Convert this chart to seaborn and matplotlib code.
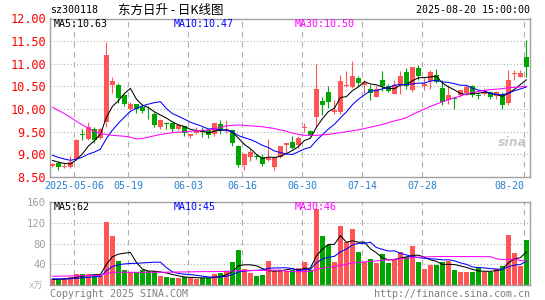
import matplotlib
matplotlib.use("Agg")
import matplotlib.pyplot as plt
import seaborn as sns
import numpy as np
import pandas as pd

sns.set_style("white")
plt.rcParams['font.family'] = ['DejaVu Sans Mono', 'Noto Sans CJK SC']

# daily candles, 2025-04-25 .. 2025-08-20 (80 trading days)
opens = [8.75, 8.81, 8.72, 8.73, 8.90, 9.43, 9.35, 9.57, 9.36, 9.72,
         10.53, 10.53, 10.31, 10.01, 10.11, 10.04, 9.99, 9.89, 9.60, 9.70,
         9.69, 9.57, 9.62, 9.40, 9.48, 9.54, 9.54, 9.44, 9.66, 9.54,
         9.53, 9.18, 8.76, 8.94, 8.95, 8.94, 8.87, 8.72, 8.94, 9.20,
         9.28, 9.20, 9.58, 9.51, 9.82, 10.17, 10.37, 9.93, 9.93, 10.52,
         10.49, 10.69, 10.54, 10.45, 10.26, 10.65, 10.50, 10.34, 10.54, 10.82,
         10.43, 10.90, 10.52, 10.63, 10.75, 10.46, 10.20, 10.25, 10.31, 10.35,
         10.50, 10.29, 10.33, 10.38, 10.29, 10.31, 10.13, 10.78, 10.71, 11.14]
highs = [8.82, 8.83, 8.81, 8.96, 9.33, 9.56, 9.72, 9.60, 9.58, 11.49,
         10.71, 10.57, 10.33, 10.16, 10.12, 10.11, 10.07, 9.94, 9.77, 9.71,
         9.71, 9.68, 9.62, 9.45, 9.60, 9.60, 9.56, 9.70, 9.75, 9.75,
         9.53, 9.20, 9.03, 9.12, 9.01, 9.01, 9.35, 8.95, 9.19, 9.24,
         9.40, 9.40, 9.69, 9.53, 11.00, 10.26, 10.50, 10.19, 10.76, 10.84,
         11.07, 10.74, 10.65, 10.54, 10.52, 10.85, 10.56, 10.65, 10.84, 10.91,
         10.93, 10.97, 10.68, 10.86, 10.88, 10.65, 10.53, 10.27, 10.43, 10.53,
         10.53, 10.38, 10.46, 10.38, 10.40, 10.38, 10.87, 10.87, 10.86, 11.53]
lows = [8.72, 8.66, 8.70, 8.69, 8.88, 9.32, 9.32, 9.26, 9.33, 9.61,
        10.36, 10.14, 10.07, 9.98, 9.92, 9.92, 9.77, 9.60, 9.57, 9.57,
        9.49, 9.53, 9.40, 9.36, 9.46, 9.38, 9.37, 9.40, 9.46, 9.47,
        9.18, 8.71, 8.66, 8.85, 8.90, 8.75, 8.86, 8.66, 8.91, 9.03,
        9.11, 9.15, 9.49, 9.40, 9.60, 9.86, 10.03, 9.90, 9.90, 10.49,
        10.47, 10.50, 10.35, 10.21, 10.26, 10.41, 10.37, 10.34, 10.34, 10.45,
        10.38, 10.64, 10.42, 10.45, 10.57, 10.09, 10.12, 10.00, 10.27, 10.31,
        10.27, 10.23, 10.31, 10.23, 10.23, 10.01, 10.09, 10.64, 10.71, 10.71]
closes = [8.78, 8.73, 8.74, 8.84, 9.32, 9.42, 9.60, 9.32, 9.55, 11.19,
          10.63, 10.24, 10.11, 10.11, 10.01, 9.96, 9.97, 9.65, 9.76, 9.66,
          9.55, 9.64, 9.47, 9.44, 9.53, 9.49, 9.42, 9.69, 9.53, 9.56,
          9.25, 8.76, 9.00, 9.05, 8.94, 8.79, 8.93, 8.94, 9.18, 9.24,
          9.14, 9.36, 9.61, 9.43, 10.45, 10.08, 10.15, 9.99, 10.61, 10.54,
          10.74, 10.57, 10.57, 10.35, 10.45, 10.50, 10.41, 10.54, 10.74, 10.52,
          10.92, 10.73, 10.56, 10.82, 10.60, 10.16, 10.31, 10.23, 10.42, 10.49,
          10.31, 10.28, 10.38, 10.27, 10.38, 10.09, 10.64, 10.80, 10.80, 10.92]
# closes before the window, only used to start the short moving averages
prior_closes = [9.20, 9.10, 9.12, 9.05, 9.00, 8.92, 8.88, 8.90, 8.85]
# 30-day average
ma30 = [10.04, 9.97, 9.90, 9.82, 9.73, 9.65, 9.58, 9.51, 9.46, 9.44,
        9.42, 9.41, 9.40, 9.38, 9.34, 9.35, 9.38, 9.41, 9.44, 9.46,
        9.48, 9.49, 9.50, 9.51, 9.52, 9.53, 9.54, 9.56, 9.60, 9.63,
        9.64, 9.65, 9.64, 9.63, 9.62, 9.61, 9.59, 9.57, 9.54, 9.51,
        9.47, 9.44, 9.42, 9.42, 9.42, 9.43, 9.44, 9.46, 9.48, 9.50,
        9.52, 9.54, 9.57, 9.60, 9.63, 9.66, 9.70, 9.74, 9.77, 9.81,
        9.88, 9.94, 10.00, 10.06, 10.11, 10.16, 10.21, 10.25, 10.29, 10.33,
        10.37, 10.39, 10.41, 10.43, 10.44, 10.45, 10.47, 10.48, 10.49, 10.50]

volume = [11.6, 11.6, 13.5, 16, 21.3, 21.3, 21.3, 19.4, 17.4, 120.6,
          93.5, 46.5, 29, 24.5, 24.5, 29, 27.7, 27, 17.4, 15.5,
          14.2, 14.2, 15.5, 14.2, 12.3, 12.9, 12.9, 21.3, 23.9, 27,
          45, 67.7, 31, 24, 17.4, 18.7, 46.5, 27, 27, 27.7,
          29, 32, 44.5, 29, 146, 95, 77, 44.5, 114, 82,
          108, 64, 45, 50, 43, 60, 43, 50, 64, 53.5,
          75.5, 44.5, 31, 38.7, 38.7, 44.5, 46.5, 29, 25, 25,
          25, 32, 25, 25, 31, 36.8, 96, 62.6, 36.8, 86]
prior_volume = [14, 13, 12, 13, 12, 11, 10, 11, 11]
vol_ma30 = [16.8, 17.0, 17.2, 17.5, 17.8, 18.0, 18.2, 18.4, 18.6, 22.0,
            24.5, 24.6, 24.6, 24.5, 24.5, 24.5, 24.6, 24.6, 24.6, 24.7,
            24.8, 25.0, 25.2, 25.4, 25.6, 25.8, 25.8, 25.9, 26.0, 26.5,
            27.0, 27.5, 27.7, 27.8, 28.0, 28.2, 28.4, 28.6, 28.8, 26.5,
            25.8, 25.5, 26.0, 26.0, 30.5, 32.5, 34.5, 35.0, 38.0, 40.0,
            42.5, 43.5, 44.5, 45.5, 46.5, 47.5, 48.5, 49.5, 50.5, 51.5,
            53.0, 53.5, 54.0, 54.5, 54.8, 55.0, 55.0, 54.8, 54.8, 54.8,
            54.8, 54.6, 54.6, 54.6, 50.8, 48.8, 49.4, 49.8, 47.2, 46.0]

date_pos = [4, 13, 23, 32, 42, 52, 62, 79]
date_labels = ['2025-05-06', '05-19', '06-03', '06-16', '06-30', '07-14', '07-28', '08-20']
price_ticks = [8.5, 9.0, 9.5, 10.0, 10.5, 11.0, 11.5, 12.0]
vol_ticks = [40, 80, 120, 160]

RED = '#ff5555'
GREEN = '#00a600'
FRAME = '#a0a0a0'
GRID = '#b0b0b0'

n = len(closes)
idx = np.arange(n)
o = np.array(opens); c = np.array(closes)
colors = [RED if cc >= oo else GREEN for oo, cc in zip(o, c)]

cl = pd.Series(prior_closes + closes)
ma5 = cl.rolling(5).mean().values[len(prior_closes):]
ma10 = cl.rolling(10).mean().values[len(prior_closes):]
vs = pd.Series(prior_volume + volume)
vma5 = vs.rolling(5).mean().values[len(prior_volume):]
vma10 = vs.rolling(10).mean().values[len(prior_volume):]

W, H = 545, 300
fig = plt.figure(figsize=(W / 100, H / 100), dpi=100)


def rect(x0, y0, x1, y1):
    return [x0 / W, 1 - y1 / H, (x1 - x0) / W, (y1 - y0) / H]


def ftext(x, y, s, **kw):
    fig.text(x / W, 1 - y / H, s, va='center', **kw)


ax = fig.add_axes(rect(50, 18.5, 530, 177))
axv = fig.add_axes(rect(50, 202, 530, 285))
grid_x = [p - 0.38 for p in date_pos]

for a in (ax, axv):
    a.set_xlim(-0.4, n - 0.4)
    for s in a.spines.values():
        s.set_color(FRAME)
        s.set_linewidth(1)
    for gx in grid_x:
        a.axvline(gx, color=GRID, lw=0.8, ls=(0, (5, 4)), zorder=0)

LW = 0.75

# price panel
ax.set_ylim(8.5, 12.0)
for t in price_ticks[1:-1]:
    ax.axhline(t, color=GRID, lw=0.8, ls=(0, (1, 2)), zorder=0)
ax.vlines(idx, lows, highs, colors=colors, lw=0.8, zorder=2)
body = np.maximum(np.abs(c - o), 0.02)
ax.bar(idx, body, bottom=np.minimum(o, c), width=0.8, color=colors, lw=0, zorder=3)
sns.lineplot(x=idx, y=ma5, ax=ax, color='black', lw=LW, zorder=4)
sns.lineplot(x=idx, y=ma10, ax=ax, color='#0000ff', lw=LW, zorder=4)
sns.lineplot(x=idx, y=ma30, ax=ax, color='#ff00ff', lw=LW, zorder=4)
ax.set_yticks(price_ticks)
ax.set_yticklabels([f'{t:.2f}' for t in price_ticks], color='#ff0000', fontsize=8.6)
ax.set_xticks(grid_x)
ax.set_xticklabels(date_labels, color='#2a7fd0', fontsize=7.2)
ax.get_xticklabels()[-1].set_ha('right')
ax.tick_params(axis='both', length=0, pad=3)
ax.set_xlabel(''); ax.set_ylabel('')

# volume panel
axv.set_ylim(0, 160)
for t in vol_ticks[:-1]:
    axv.axhline(t, color=GRID, lw=0.8, ls=(0, (1, 2)), zorder=0)
axv.bar(idx, volume, width=0.8, color=colors, lw=0, zorder=2)
sns.lineplot(x=idx, y=vma5, ax=axv, color='black', lw=LW, zorder=4)
sns.lineplot(x=idx, y=vma10, ax=axv, color='#0000ff', lw=LW, zorder=4)
sns.lineplot(x=idx, y=vol_ma30, ax=axv, color='#ff00ff', lw=LW, zorder=4)
axv.set_yticks(vol_ticks)
axv.set_yticklabels([str(t) for t in vol_ticks], color='#a0a0a0', fontsize=7.6)
axv.set_xticks([])
axv.tick_params(axis='y', length=0, pad=3)
axv.set_xlabel(''); axv.set_ylabel('')

# header and labels
ftext(50, 10, 'sz300118', fontsize=7.2, color='black')
ftext(118, 10, '东方日升 - 日K线图', fontsize=9, color='black',
      family=['Noto Sans CJK SC', 'DejaVu Sans'])
ftext(530, 10, '2025-08-20 15:00:00', fontsize=7.2, color='black', ha='right')
ftext(54, 24, 'MA5:10.63', fontsize=7.2, color='black')
ftext(174, 24, 'MA10:10.47', fontsize=7.2, color='#0000ff')
ftext(295, 24, 'MA30:10.50', fontsize=7.2, color='#ff00ff')
ftext(54, 207, 'MA5:62', fontsize=7.2, color='black')
ftext(174, 207, 'MA10:45', fontsize=7.2, color='#0000ff')
ftext(295, 207, 'MA30:46', fontsize=7.2, color='#ff00ff')
ftext(29, 286, 'x万', fontsize=6.5, color='#b0b0b0',
      family=['DejaVu Sans Mono', 'Noto Sans CJK SC'])
ftext(50, 294, 'Copyright 2025 SINA.COM', fontsize=7.2, color='#808080')
ftext(530, 294, 'http://finance.sina.com.cn', fontsize=7.2, color='#808080', ha='right')
ftext(512, 143, 'sina', fontsize=9, color='#c8c8c8', ha='center',
      style='italic', weight='bold', family=['DejaVu Sans'])

fig.savefig('out.png', dpi=100)
